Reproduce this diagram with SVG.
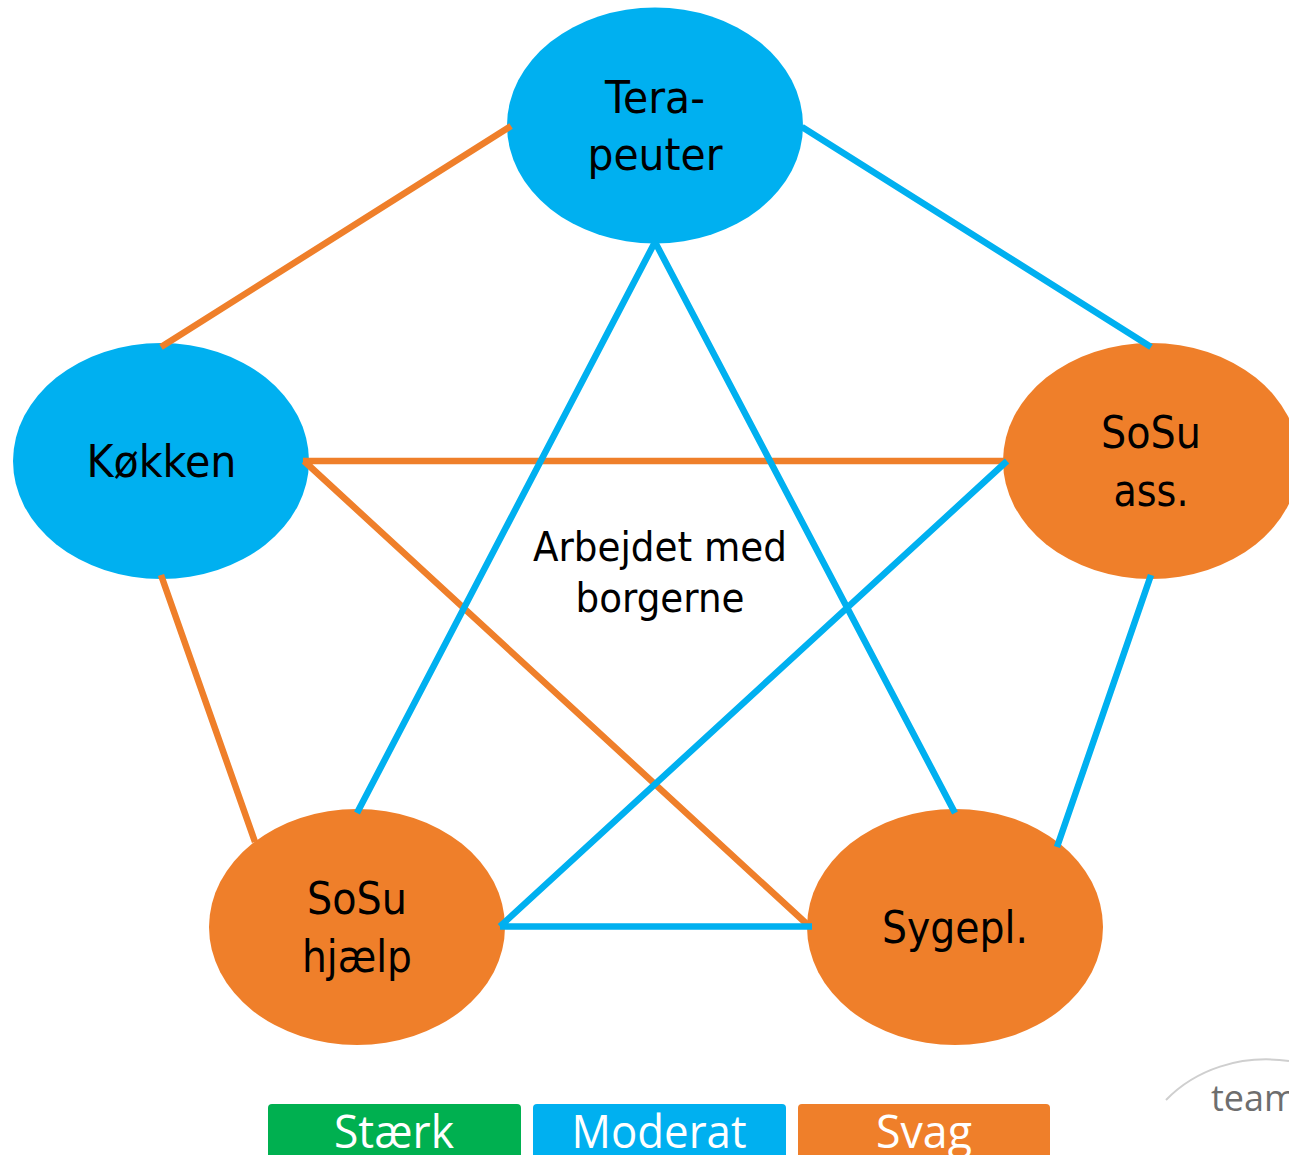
<svg xmlns="http://www.w3.org/2000/svg" width="1289" height="1155" viewBox="0 0 1289 1155">
<style>
text{font-family:"DejaVu Sans",Verdana,sans-serif;text-anchor:middle;fill:#000}
.n{font-size:44px}
.c{font-size:40px}
.l{font-size:46px;fill:#fff;font-family:"Open Sans","Noto Sans",sans-serif}
.b{fill:#00b0f0}.o{fill:#ef7f2a}
.cb,.co{fill:none;stroke-width:6.500;stroke-linecap:butt}
.cb{stroke:#00b0f0}.co{stroke:#ef7f2a}
</style>
<rect width="1289" height="1155" fill="#fff"/>
<g id="terapeuter"><ellipse class="b" cx="655" cy="125.500" rx="148" ry="118"/><text class="n" x="655" y="113" textLength="100" lengthAdjust="spacingAndGlyphs">Tera-</text><text class="n" x="655" y="170" textLength="135" lengthAdjust="spacingAndGlyphs">peuter</text></g>
<g id="kokken"><ellipse class="b" cx="161" cy="461" rx="148" ry="118"/><text class="n" x="161.500" y="477" textLength="150" lengthAdjust="spacingAndGlyphs">Køkken</text></g>
<g id="sosu-ass"><ellipse class="o" cx="1151" cy="461" rx="148" ry="118"/><text class="n" x="1151" y="448" textLength="100" lengthAdjust="spacingAndGlyphs">SoSu</text><text class="n" x="1151" y="506" textLength="75" lengthAdjust="spacingAndGlyphs">ass.</text></g>
<g id="sosu-hjaelp"><ellipse class="o" cx="357" cy="927" rx="148" ry="118"/><text class="n" x="357" y="914" textLength="100" lengthAdjust="spacingAndGlyphs">SoSu</text><text class="n" x="357" y="972" textLength="110" lengthAdjust="spacingAndGlyphs">hjælp</text></g>
<g id="sygepl"><ellipse class="o" cx="955" cy="927" rx="148" ry="118"/><text class="n" x="955" y="943" textLength="146" lengthAdjust="spacingAndGlyphs">Sygepl.</text></g>
<g id="center"><text class="c" x="660" y="561" textLength="254" lengthAdjust="spacingAndGlyphs">Arbejdet med</text><text class="c" x="660" y="612" textLength="169" lengthAdjust="spacingAndGlyphs">borgerne</text></g>
<g id="connectors">
<path class="co" d="M511 126L161 347M303 461H1008M304 461L809 926M161 575L255 842"/>
<path class="cb" d="M802 127L1151 347M655 242L357 813M655 242L955 813M1007 461L500 926.500M1151 575L1057 847M500 926.500H812"/>
</g>
<g id="legend">
<rect x="268" y="1104" width="253" height="60" rx="4" fill="#00b050"/><text class="l" x="394" y="1148" textLength="120" lengthAdjust="spacingAndGlyphs">Stærk</text>
<rect x="533" y="1104" width="253" height="60" rx="4" fill="#00b0f0"/><text class="l" x="659" y="1148" textLength="175" lengthAdjust="spacingAndGlyphs">Moderat</text>
<rect x="798" y="1104" width="252" height="60" rx="4" fill="#ef7f2a"/><text class="l" x="924" y="1148" textLength="96" lengthAdjust="spacingAndGlyphs">Svag</text>
</g>
<g id="logo"><path d="M1166 1100C1195 1070 1240 1054 1289 1061" fill="none" stroke="#cfcfcf" stroke-width="2"/><text x="1211" y="1111" font-size="36" style="text-anchor:start;fill:#6e6e6e;font-family:'Open Sans',sans-serif">team</text></g>
</svg>
